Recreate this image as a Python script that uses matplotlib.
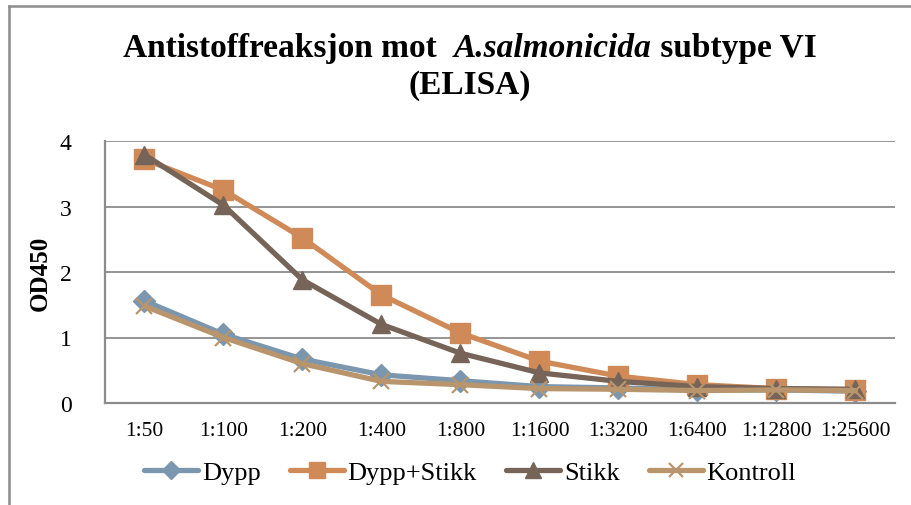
import matplotlib
matplotlib.use("Agg")
import matplotlib.pyplot as plt
from matplotlib.lines import Line2D

categories = ["1:50", "1:100", "1:200", "1:400", "1:800", "1:1600", "1:3200", "1:6400", "1:12800", "1:25600"]
dypp = [1.56, 1.05, 0.67, 0.43, 0.34, 0.25, 0.23, 0.20, 0.20, 0.18]
dypp_stikk = [3.72, 3.25, 2.52, 1.65, 1.07, 0.64, 0.41, 0.28, 0.22, 0.20]
stikk = [3.79, 3.02, 1.88, 1.20, 0.76, 0.46, 0.33, 0.25, 0.22, 0.21]
kontroll = [1.48, 1.00, 0.60, 0.33, 0.28, 0.22, 0.21, 0.19, 0.20, 0.19]
series_names = ["Dypp", "Dypp+Stikk", "Stikk", "Kontroll"]
yticks = [0, 1, 2, 3, 4]

plt.rcParams['font.family'] = ['Liberation Serif', 'DejaVu Serif']

W, H = 912, 506
fig = plt.figure(figsize=(W / 100, H / 100), dpi=100)
ax = fig.add_axes([105 / W, 1 - 404 / H, (895 - 105) / W, (404 - 142) / H])

x = list(range(len(categories)))
styles = [
    (dypp, "#7B96AF", "D", 11),
    (dypp_stikk, "#D08A58", "s", 14),
    (stikk, "#766458", "^", 13),
    (kontroll, "#B8956C", "x", 12),
]
for (vals, col, mk, ms), name in zip(styles, series_names):
    kw = dict(marker=mk, markersize=ms, color=col, linewidth=3.8, label=name,
              solid_capstyle="round", solid_joinstyle="round")
    if mk == "x":
        kw.update(markeredgewidth=1.6, markeredgecolor=col)
    else:
        kw.update(markeredgecolor=col, markerfacecolor=col)
    ax.plot(x, vals, **kw)

ax.set_xlim(-0.5, len(categories) - 0.5)
ax.set_ylim(0, 4)
ax.set_yticks(yticks)
ax.set_yticklabels([str(t) for t in yticks], fontsize=17)
ax.set_xticks(x)
ax.set_xticklabels(categories, fontsize=15.5)
ax.tick_params(axis="both", length=0)
ax.tick_params(axis="y", pad=24)
ax.tick_params(axis="x", pad=13)
ax.grid(axis="y", color="#8c8c8c", linewidth=1.3)
ax.set_axisbelow(True)
for s in ["top", "right"]:
    ax.spines[s].set_visible(False)
for s in ["left", "bottom"]:
    ax.spines[s].set_color("#8c8c8c")
    ax.spines[s].set_linewidth(1.6)
ax.set_ylabel("OD450", fontsize=18, fontweight="bold", labelpad=6)

# Title with italic part
fig.canvas.draw()
renderer = fig.canvas.get_renderer()
parts = [("Antistoffreaksjon mot  ", "normal"), ("A.salmonicida", "italic"), (" subtype VI", "normal")]
fs = 24
texts = []
for s, st in parts:
    t = fig.text(0, 0, s, fontsize=fs, fontweight="bold", fontstyle=st, ha="left", va="baseline")
    texts.append(t)
widths = [t.get_window_extent(renderer).width for t in texts]
total = sum(widths)
xc = 470
xs = xc - total / 2
yb = H - 57
for t, w in zip(texts, widths):
    t.set_position((xs / W, yb / H))
    xs += w
fig.text(xc / W, (H - 94) / H, "(ELISA)", fontsize=fs, fontweight="bold", ha="center", va="baseline")

leg = fig.legend(loc="center", bbox_to_anchor=(470 / W, 1 - 473 / H), ncol=4, frameon=False,
                 fontsize=19, handlelength=2.05, handletextpad=0.15, columnspacing=1.1,
                 markerscale=0.85)

# outer frame
fig.add_artist(Line2D([9 / W, 9 / W], [0, 1 - 7 / H], transform=fig.transFigure, color="#8c8c8c", linewidth=1.8))
fig.add_artist(Line2D([9 / W, 1], [1 - 7 / H, 1 - 7 / H], transform=fig.transFigure, color="#8c8c8c", linewidth=1.8))

fig.savefig("out.png", dpi=100)
